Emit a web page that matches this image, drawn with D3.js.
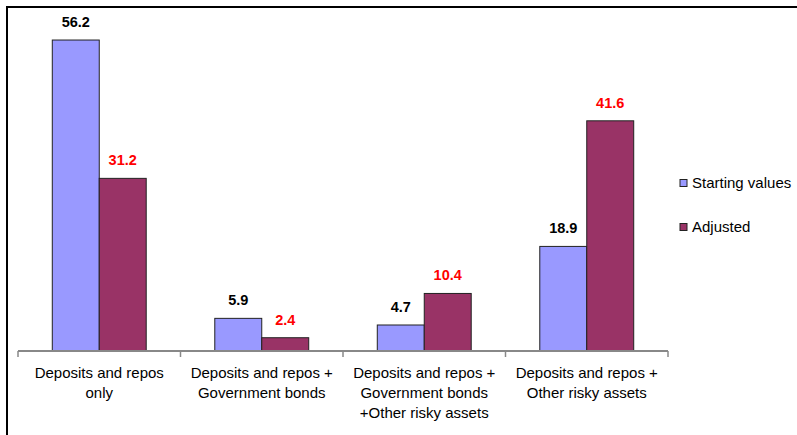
<!DOCTYPE html>
<html><head><meta charset="utf-8">
<script src="https://cdn.jsdelivr.net/npm/d3@7"></script>
<style>body{margin:0;background:#fff}svg{display:block;font-family:"Liberation Sans",Arial,sans-serif}</style>
</head><body>
<svg id="c" width="797" height="435"></svg>
<script>
const categories = [
  ["Deposits and repos", "only"],
  ["Deposits and repos +", "Government bonds"],
  ["Deposits and repos +", "Government bonds", "+Other risky assets"],
  ["Deposits and repos +", "Other risky assets"]
];
const seriesNames = ["Starting values", "Adjusted"];
const startingValues = [56.2, 5.9, 4.7, 18.9];
const adjustedValues = [31.2, 2.4, 10.4, 41.6];
const colors = ["#9999ff", "#993366"];
const labelColors = ["#000000", "#ff0000"];

const svg = d3.select("#c");
svg.append("path").attr("d", "M7,435 V7 H797").attr("fill", "none").attr("stroke", "#000").attr("stroke-width", 2);

const x0 = d3.scaleBand().domain(d3.range(categories.length)).range([18, 668]).paddingInner(0).paddingOuter(0);
const x1 = d3.scaleBand().domain([0, 1]).range([0, x0.bandwidth()]).paddingInner(0).paddingOuter(0.73);
const y = d3.scaleLinear().domain([0, 60]).range([351, 19]);

const series = [startingValues, adjustedValues];
series.forEach((vals, s) => {
  const g = svg.append("g");
  g.selectAll("rect").data(vals).join("rect")
    .attr("x", (d, i) => x0(i) + x1(s))
    .attr("y", d => y(d))
    .attr("width", x1.bandwidth())
    .attr("height", d => y(0) - y(d))
    .attr("fill", colors[s])
    .attr("stroke", "#222")
    .attr("stroke-width", 1);
  g.selectAll("text").data(vals).join("text")
    .attr("x", (d, i) => x0(i) + x1(s) + x1.bandwidth() / 2)
    .attr("y", d => y(d) - 13)
    .attr("text-anchor", "middle")
    .attr("font-size", "14.5px")
    .attr("font-weight", "bold")
    .attr("fill", labelColors[s])
    .text(d => d.toFixed(1));
});

const ax = svg.append("g").attr("transform", "translate(0,351)");
ax.append("line").attr("x1", 18).attr("x2", 668).attr("stroke", "#888").attr("stroke-width", 2);
const tickPos = d3.range(categories.length).map(i => x0(i)).concat([x0.range()[1]]);
ax.selectAll("line.t").data(tickPos).join("line").attr("class", "t")
  .attr("x1", d => d).attr("x2", d => d).attr("y1", 0).attr("y2", 6)
  .attr("stroke", "#888").attr("stroke-width", 1.5);

const lab = svg.append("g");
categories.forEach((lines, i) => {
  const cx = x0(i) + x0.bandwidth() / 2;
  const t = lab.append("text")
    .attr("x", cx)
    .attr("y", 378)
    .attr("text-anchor", "middle")
    .attr("font-size", "15px")
    .attr("fill", "#000");
  lines.forEach((l, k) => t.append("tspan").attr("x", cx).attr("dy", k ? 20 : 0).text(l));
});

const leg = svg.append("g");
seriesNames.forEach((n, s) => {
  const cy = 183 + s * 44;
  leg.append("rect").attr("x", 680).attr("y", cy - 3.5).attr("width", 7).attr("height", 7)
    .attr("fill", colors[s]).attr("stroke", "#222").attr("stroke-width", 1);
  leg.append("text").attr("x", 692).attr("y", cy + 5).attr("font-size", "15px").attr("fill", "#000").text(n);
});
</script>
</body></html>
